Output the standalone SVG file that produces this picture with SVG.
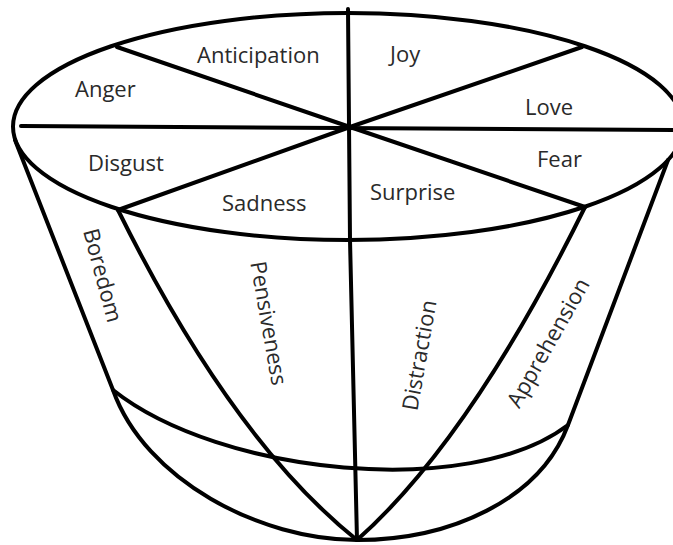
<svg xmlns="http://www.w3.org/2000/svg" width="673" height="545" viewBox="0 0 673 545">
<style>
.ln{fill:none;stroke:#000;stroke-width:4;stroke-linecap:round;stroke-linejoin:round}
.t{font-family:"Open Sans","DejaVu Sans",sans-serif;font-size:22px;fill:#2a2a2a}
.v{text-anchor:middle;dominant-baseline:central}
</style>
<rect width="673" height="545" fill="#fff"/>
<g id="connectors">
<ellipse class="ln" cx="348" cy="126.5" rx="335" ry="113.5"/>
<path class="ln" d="M21,126 L673,130"/>
<path class="ln" d="M348,9 L350,240 L357,540"/>
<path class="ln" d="M117,47 L350,127 L582,47"/>
<path class="ln" d="M118,210 L350,127 L585,207"/>
<path class="ln" d="M15,140 L113,390 C145,480 260,540 357,540 C450,540 540,500 568,425 L668,160"/>
<path class="ln" d="M118,210 Q232,440 357,540 Q470,440 585,207"/>
<path class="ln" d="M113,390 C220,475 470,500 568,425"/>
</g>
<g id="anticipation"><text class="t" x="197" y="63">Anticipation</text></g>
<g id="joy"><text class="t" x="390" y="62">Joy</text></g>
<g id="anger"><text class="t" x="75" y="97">Anger</text></g>
<g id="love"><text class="t" x="525" y="115">Love</text></g>
<g id="disgust"><text class="t" x="88" y="171">Disgust</text></g>
<g id="fear"><text class="t" x="537" y="167">Fear</text></g>
<g id="sadness"><text class="t" x="222" y="211">Sadness</text></g>
<g id="surprise"><text class="t" x="370" y="200">Surprise</text></g>
<g id="boredom"><text class="t v" transform="translate(104,275) rotate(75)">Boredom</text></g>
<g id="pensiveness"><text class="t v" transform="translate(270,323) rotate(80)">Pensiveness</text></g>
<g id="distraction"><text class="t v" transform="translate(418,355) rotate(-80)">Distraction</text></g>
<g id="apprehension"><text class="t v" transform="translate(547,342) rotate(-60.5)">Apprehension</text></g>
</svg>
